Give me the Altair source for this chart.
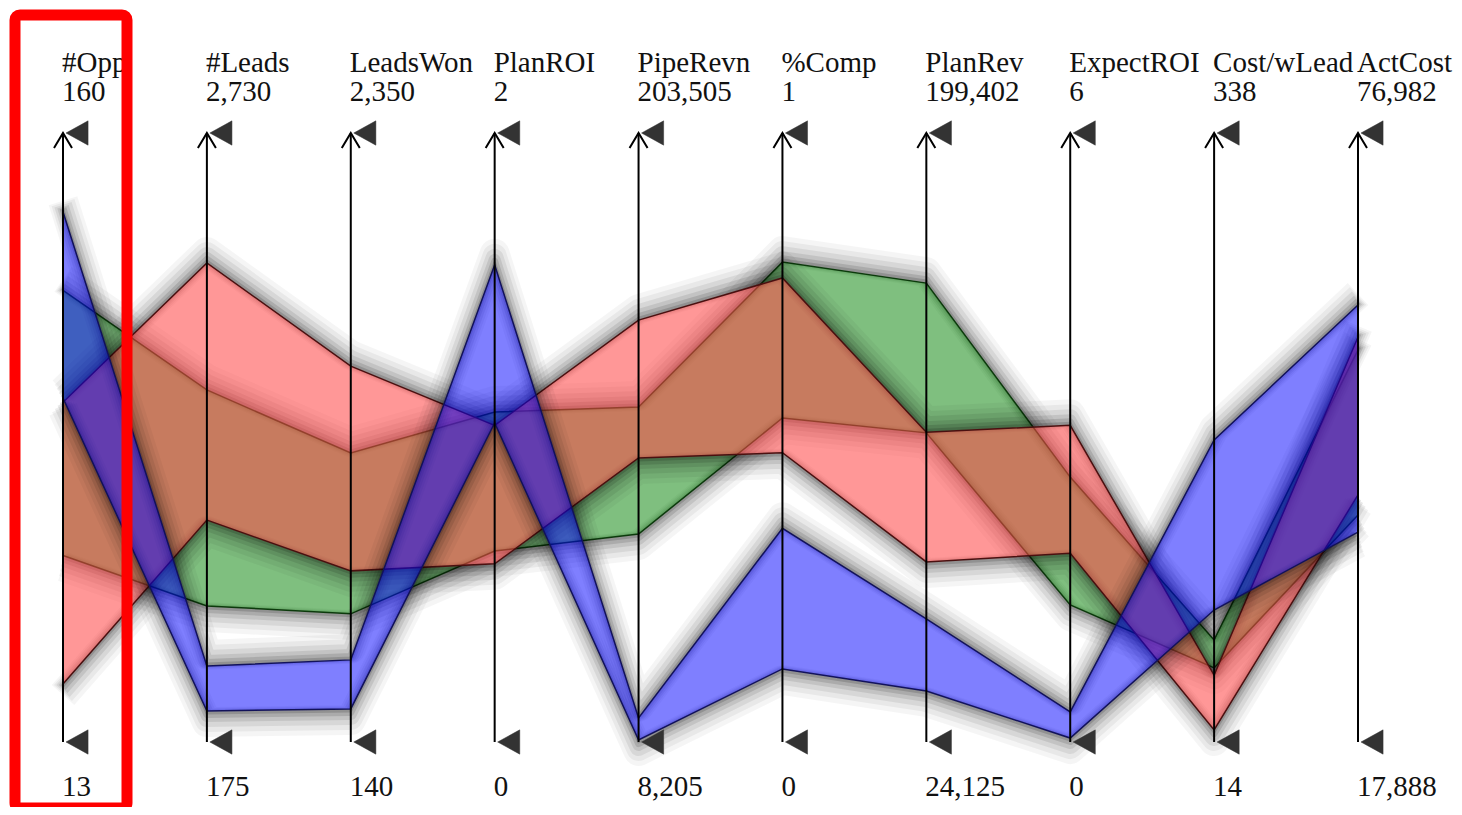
import altair as alt
import pandas as pd

# ---- data ----
axes = ["#Opp", "#Leads", "LeadsWon", "PlanROI", "PipeRevn", "%Comp",
        "PlanRev", "ExpectROI", "Cost/wLead", "ActCost"]
axis_min = [13, 175, 140, 0, 8205, 0, 24125, 0, 14, 17888]
axis_max = [160, 2730, 2350, 2, 203505, 1, 199402, 6, 338, 76982]

groups = ["green", "red", "blue"]
green_top = [122, 1652, 1189, 1.084, 115600, 0.788, 156200, 2.61, 68.3, 55930]
green_bot = [58, 746, 605, 0.627, 74900, 0.532, 113100, 1.35, 53.4, 39910]
red_top = [95, 2185, 1504, 1.04, 143500, 0.762, 113300, 3.12, 49.6, 57190]
red_bot = [27, 1106, 761, 0.585, 99280, 0.475, 75940, 1.86, 20.4, 41860]
blue_top = [141, 494, 438, 1.567, 15900, 0.351, 59530, 0.296, 174.7, 60290]
blue_bot = [96, 305, 260, 1.048, 8850, 0.120, 38800, 0.039, 84.2, 38260]

band_tops = {"green": green_top, "red": red_top, "blue": blue_top}
band_bots = {"green": green_bot, "red": red_bot, "blue": blue_bot}
fill_col = {"green": "#008000", "red": "#ff4545", "blue": "#0000ff"}
fill_op = {"green": 0.5, "red": 0.56, "blue": 0.5}
edge_col = {"green": "#0c3a0c", "red": "#4a1010", "blue": "#12125a"}

# ---- tables built from the arrays ----
rows = []
for g in groups:
    for i, name in enumerate(axes):
        span = axis_max[i] - axis_min[i]
        rows.append({
            "group": g, "idx": i, "axis": name,
            "top_n": (band_tops[g][i] - axis_min[i]) / span,
            "bottom_n": (band_bots[g][i] - axis_min[i]) / span,
        })
df = pd.DataFrame(rows)

axdf = pd.DataFrame({
    "idx": list(range(len(axes))),
    "name": axes,
    "maxl": [f"{v:,}" for v in axis_max],
    "minl": [f"{v:,}" for v in axis_min],
})

xsc = alt.Scale(domain=[0, 9], range=[55, 1350])
ysc = alt.Scale(domain=[0, 1], range=[734, 125])
X = alt.X("idx:Q", scale=xsc, axis=None)

# soft drop shadow: several strokes pushed outward from each band edge
shadow_spec = [(30, 11, 0.04), (24, 9, 0.05), (18, 7, 0.07),
               (12, 5, 0.09), (7, 3.5, 0.12), (3, 2, 0.15)]

layers = []
for g in groups:
    d = alt.Chart(df[df.group == g])
    for w, off, op in shadow_spec:
        for field, sign in (("top_n", -1), ("bottom_n", 1)):
            layers.append(
                d.mark_line(color="black", strokeWidth=w, opacity=op,
                            strokeJoin="round", strokeCap="butt",
                            yOffset=sign * off)
                .encode(x=X, y=alt.Y(f"{field}:Q", scale=ysc, axis=None))
            )
    layers.append(
        d.mark_area(color=fill_col[g], opacity=fill_op[g])
        .encode(x=X, y=alt.Y("top_n:Q", scale=ysc, axis=None), y2="bottom_n:Q")
    )
    for field in ("top_n", "bottom_n"):
        layers.append(
            d.mark_line(color=edge_col[g], strokeWidth=1.5)
            .encode(x=X, y=alt.Y(f"{field}:Q", scale=ysc, axis=None))
        )

axc = alt.Chart(axdf)
layers.append(
    axc.mark_rule(color="black", strokeWidth=2)
    .encode(x=X, y=alt.Y(datum=0, scale=ysc, axis=None), y2=alt.datum(1))
)
# open arrowhead at top
layers.append(
    axc.mark_point(shape="M-0.6,1L0,0L0.6,1", size=900, filled=False,
                   stroke="black", strokeWidth=2, opacity=1)
    .encode(x=X, y=alt.Y(datum=1, scale=ysc, axis=None))
)
flag = "M0,0L1,-0.55L1,0.55Z"
for yv in (1, 0):
    layers.append(
        axc.mark_point(shape=flag, size=1950, filled=True, fill="#333333",
                       stroke="#333333", strokeWidth=0.5, opacity=1, xOffset=3)
        .encode(x=X, y=alt.Y(datum=yv, scale=ysc, axis=None))
    )

txt = dict(align="left", baseline="alphabetic", font="Liberation Serif",
           fontSize=29, color="#111111", dx=-1)
layers.append(axc.mark_text(**txt).encode(x=X, y=alt.value(64), text="name:N"))
layers.append(axc.mark_text(**txt).encode(x=X, y=alt.value(93), text="maxl:N"))
layers.append(axc.mark_text(**txt).encode(x=X, y=alt.value(788), text="minl:N"))

# red highlight box around the first axis
box = alt.Chart(pd.DataFrame({"k": [0]})).mark_rect(
    fillOpacity=0, stroke="#ff0000", strokeWidth=11, cornerRadius=5
).encode(x=alt.value(7), x2=alt.value(119), y=alt.value(7), y2=alt.value(800))
layers.append(box)

chart = alt.layer(*layers).properties(
    width=1446, height=799, padding=0,
    autosize=alt.AutoSizeParams(type="none"),
).configure_view(stroke=None)

chart.save("out.html", embed_options={"renderer": "svg", "actions": False})
